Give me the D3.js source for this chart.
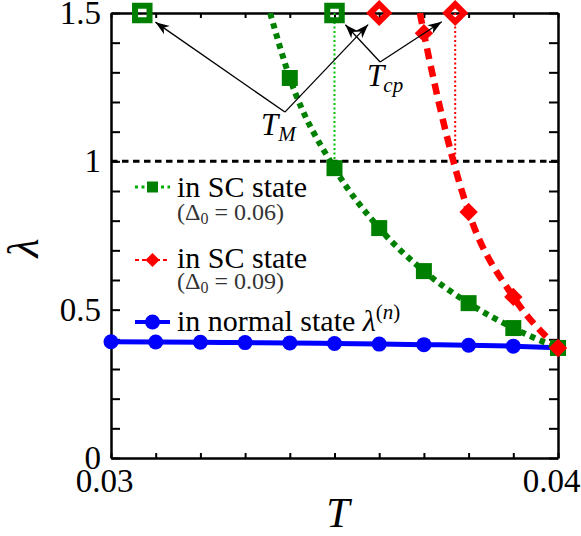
<!DOCTYPE html>
<html>
<head>
<meta charset="utf-8">
<script src="https://cdn.jsdelivr.net/npm/d3@7"></script>
<style>
	body { margin: 0; background: #fff; }
</style>
</head>
<body>
<div id="svg-container"></div>
<script>

// DATA
// normal state lambda^(n)
const normalT = [0.030, 0.031, 0.032, 0.033, 0.034, 0.035, 0.036, 0.037, 0.038, 0.039];
const normalLambda = [0.392, 0.391, 0.390, 0.389, 0.388, 0.386, 0.384, 0.382, 0.380, 0.377];
// SC state, Delta0 = 0.06
const sc06T = [0.034, 0.035, 0.036, 0.037, 0.038, 0.039, 0.040];
const sc06Lambda = [1.281, 0.977, 0.775, 0.630, 0.522, 0.438, 0.371];
const sc06Edge = [0.03356, 1.5];  // where the curve leaves the frame
// SC state, Delta0 = 0.09
const sc09T = [0.037, 0.038, 0.039, 0.040];
const sc09Lambda = [1.432, 0.829, 0.543, 0.371];
const sc09Edge = [0.03691, 1.5];
// T_M and T_cp (green, red), drawn on the top edge
const markLambda = 1.5;
const tM = [0.0307, 0.0360];
const tCp = [0.0350, 0.0377];
// label anchors (where the arrows start)
const tMLabel = [0.03389, 1.166];
const tCpLabel = [0.03602, 1.335];
// ticks
const xTicks = d3.range(0.030, 0.04001, 0.001);
const yTicks = d3.range(0, 1.501, 0.1);
const xLabels = [0.03, 0.04];
const yLabels = [0, 0.5, 1, 1.5];


// GRAPH
function graphData() {
	const w = 581;
	const h = 536;
	const padTop = 13;
	const padBottom = 78;
	const padLeft = 111;
	const padRight = 23;
	const serif = "Liberation Serif";

	// colors
	const green = "#008000";
	const red = "#ff0000";
	const blue = "#0000ff";

	// scales
	const xScale = d3.scaleLinear()
		.domain([0.03, 0.04])
		.range([padLeft, w - padRight]);
	const yScale = d3.scaleLinear()
		.domain([0, 1.5])
		.range([h - padBottom, padTop]);

	// svg
	const svg = d3.select("#svg-container")
		.append("svg")
		.attr("width", w)
		.attr("height", h)
		.attr("font-family", serif);

	const defs = svg.append("defs");
	defs.append("clipPath")
		.attr("id", "plot-clip")
		.append("rect")
		.attr("x", padLeft)
		.attr("y", padTop)
		.attr("width", w - padLeft - padRight)
		.attr("height", h - padTop - padBottom);
	defs.append("marker")
		.attr("id", "arrow")
		.attr("viewBox", "-15 -7 17 14")
		.attr("refX", 0)
		.attr("refY", 0)
		.attr("markerWidth", 17)
		.attr("markerHeight", 14)
		.attr("markerUnits", "userSpaceOnUse")
		.attr("orient", "auto")
		.append("path")
		.attr("d", "M0,0 L-14,-5 L-10,0 L-14,5 Z")
		.attr("fill", "#000");

	// axes (frame with inward ticks)
	const fmtY = d => yLabels.some(v => Math.abs(v - d) < 1e-9) ? String(+d.toFixed(1)) : "";
	const fmtX = d => xLabels.some(v => Math.abs(v - d) < 1e-9) ? d.toFixed(2) : "";
	const axes = [
		{ axis: d3.axisLeft(yScale).tickValues(yTicks).tickSize(-9).tickPadding(10).tickFormat(fmtY), tr: `translate(${padLeft},0)`, dx: 0 },
		{ axis: d3.axisRight(yScale).tickValues(yTicks).tickSize(-9).tickFormat(""), tr: `translate(${w - padRight},0)`, dx: 0 },
		{ axis: d3.axisBottom(xScale).tickValues(xTicks).tickSize(-5).tickPadding(11).tickFormat(fmtX), tr: `translate(0,${h - padBottom})`, dx: -7 },
		{ axis: d3.axisTop(xScale).tickValues(xTicks).tickSize(-5).tickFormat(""), tr: `translate(0,${padTop})`, dx: 0 }
	];
	axes.forEach(a => {
		const g = svg.append("g")
			.attr("transform", a.tr)
			.call(a.axis.tickSizeOuter(0));
		g.attr("font-family", serif);
		g.select(".domain").attr("stroke-width", 2.5).attr("stroke", "#000");
		g.selectAll(".tick line").attr("stroke-width", 2).attr("stroke", "#000");
		g.selectAll(".tick text")
			.attr("font-family", serif)
			.attr("font-size", 33)
			.attr("fill", "#000")
			.attr("dx", a.dx);
	});

	// axis titles
	svg.append("text")
		.text("T")
		.attr("x", 338)
		.attr("y", 527)
		.attr("text-anchor", "middle")
		.attr("font-family", serif)
		.attr("font-style", "italic")
		.attr("font-size", 42);
	svg.append("text")
		.text("λ")
		.attr("transform", "translate(38,248) rotate(-90)")
		.attr("text-anchor", "middle")
		.attr("font-family", serif)
		.attr("font-style", "italic")
		.attr("font-size", 44);

	// lambda = 1 reference
	svg.append("line")
		.attr("x1", xScale(0.03))
		.attr("x2", xScale(0.04))
		.attr("y1", yScale(1))
		.attr("y2", yScale(1))
		.attr("stroke", "#000")
		.attr("stroke-width", 3)
		.attr("stroke-dasharray", "6.5,4.5");

	// T_cp guide lines
	svg.selectAll(".cp-guide")
		.data(tCp)
		.enter()
		.append("line")
		.attr("class", "cp-guide")
		.attr("x1", d => xScale(d))
		.attr("x2", d => xScale(d))
		.attr("y1", yScale(markLambda))
		.attr("y2", yScale(1))
		.attr("stroke", (d, i) => i === 0 ? "#00c000" : red)
		.attr("stroke-width", 2)
		.attr("stroke-dasharray", "2,2.5");

	// lines
	const line = d3.line()
		.x(d => xScale(d[0]))
		.y(d => yScale(d[1]))
		.curve(d3.curveMonotoneX);
	const plot = svg.append("g").attr("clip-path", "url(#plot-clip)");
	plot.append("path")
		.attr("d", line(normalT.map((t, i) => [t, normalLambda[i]]).concat([[0.040, 0.372]])))
		.attr("fill", "none")
		.attr("stroke", blue)
		.attr("stroke-width", 5);
	plot.append("path")
		.attr("d", line([sc06Edge].concat(sc06T.map((t, i) => [t, sc06Lambda[i]]))))
		.attr("fill", "none")
		.attr("stroke", green)
		.attr("stroke-width", 6)
		.attr("stroke-dasharray", "5.5,5");
	plot.append("path")
		.attr("d", line([sc09Edge].concat(sc09T.map((t, i) => [t, sc09Lambda[i]]))))
		.attr("fill", "none")
		.attr("stroke", red)
		.attr("stroke-width", 6.5)
		.attr("stroke-dasharray", "11,7");

	// markers
	const square = d3.symbol().type(d3.symbolSquare);
	svg.selectAll(".dot-n")
		.data(normalT)
		.enter()
		.append("circle")
		.attr("class", "dot-n")
		.attr("cx", d => xScale(d))
		.attr("cy", (d, i) => yScale(normalLambda[i]))
		.attr("r", 7.5)
		.attr("fill", blue);
	svg.selectAll(".dot-06")
		.data(sc06T)
		.enter()
		.append("path")
		.attr("class", "dot-06")
		.attr("d", square.size(16 * 16))
		.attr("transform", (d, i) => `translate(${xScale(d)},${yScale(sc06Lambda[i])})`)
		.attr("fill", green);
	svg.selectAll(".dot-09")
		.data(sc09T)
		.enter()
		.append("path")
		.attr("class", "dot-09")
		.attr("d", square.size(13 * 13))
		.attr("transform", (d, i) => `translate(${xScale(d)},${yScale(sc09Lambda[i])}) rotate(45)`)
		.attr("fill", red);

	// open markers on the top edge (green: Delta0 = 0.06, red: Delta0 = 0.09)
	const openMarks = [
		{ t: tM[0], c: green, diamond: false },
		{ t: tCp[0], c: green, diamond: false },
		{ t: tM[1], c: red, diamond: true },
		{ t: tCp[1], c: red, diamond: true }
	];
	svg.selectAll(".open")
		.data(openMarks)
		.enter()
		.append("path")
		.attr("class", "open")
		.attr("d", d => d.diamond ? square.size(12.5 * 12.5)() : square.size(14.5 * 14.5)())
		.attr("transform", d => `translate(${xScale(d.t)},${yScale(markLambda)})` + (d.diamond ? " rotate(45)" : ""))
		.attr("fill", "none")
		.attr("stroke", d => d.c)
		.attr("stroke-width", 6);

	// arrows from labels to the marks
	const arrowSets = [
		{ from: tMLabel, to: [tM[0], tM[1]] },
		{ from: tCpLabel, to: [tCp[0], tCp[1]] }
	];
	arrowSets.forEach(s => {
		const x0 = xScale(s.from[0]);
		const y0 = yScale(s.from[1]);
		s.to.forEach(t => {
			const x1 = xScale(t);
			const y1 = yScale(markLambda);
			const len = Math.hypot(x1 - x0, y1 - y0);
			const k = (len - 16) / len;
			svg.append("line")
				.attr("x1", x0)
				.attr("y1", y0)
				.attr("x2", x0 + (x1 - x0) * k)
				.attr("y2", y0 + (y1 - y0) * k)
				.attr("stroke", "#000")
				.attr("stroke-width", 1.3)
				.attr("marker-end", "url(#arrow)");
		});
	});

	// annotation labels
	const tMText = svg.append("text")
		.attr("x", xScale(tMLabel[0]) - 24)
		.attr("y", yScale(tMLabel[1]) + 23)
		.attr("font-family", serif)
		.attr("font-style", "italic")
		.attr("font-size", 31);
	tMText.append("tspan").text("T");
	tMText.append("tspan").text("M").attr("font-size", 21).attr("dy", 6);
	const tCpText = svg.append("text")
		.attr("x", xScale(tCpLabel[0]) - 13)
		.attr("y", yScale(tCpLabel[1]) + 24)
		.attr("font-family", serif)
		.attr("font-style", "italic")
		.attr("font-size", 31);
	tCpText.append("tspan").text("T");
	tCpText.append("tspan").text("cp").attr("font-size", 21).attr("dy", 6).attr("dx", -1);

	// legend
	const lx0 = 135;
	const lx1 = 170;
	const lxText = 177;
	const legend = svg.append("g").attr("font-family", serif);
	const mainText = (txt, y) => legend.append("text").text(txt)
		.attr("x", lxText).attr("y", y)
		.attr("font-family", serif).attr("font-size", 30);
	const deltaText = (val, y) => {
		const t = legend.append("text").attr("x", lxText).attr("y", y)
			.attr("font-family", serif).attr("font-size", 24).attr("fill", "#333");
		t.append("tspan").text("(Δ");
		t.append("tspan").text("0").attr("font-size", 16).attr("dy", 4);
		t.append("tspan").text(` = ${val})`).attr("dy", -4);
	};
	// entry 1
	legend.append("line")
		.attr("x1", lx0).attr("x2", lx1).attr("y1", 187).attr("y2", 187)
		.attr("stroke", "#00b000").attr("stroke-width", 3).attr("stroke-dasharray", "3,3.5");
	legend.append("path")
		.attr("d", square.size(11 * 11)())
		.attr("transform", `translate(${(lx0 + lx1) / 2},187)`)
		.attr("fill", green);
	mainText("in SC state", 197);
	deltaText("0.06", 220);
	// entry 2
	legend.append("line")
		.attr("x1", lx0).attr("x2", lx1).attr("y1", 260).attr("y2", 260)
		.attr("stroke", red).attr("stroke-width", 2.2).attr("stroke-dasharray", "4,3");
	legend.append("path")
		.attr("d", square.size(10 * 10)())
		.attr("transform", `translate(${(lx0 + lx1) / 2},260) rotate(45)`)
		.attr("fill", red);
	mainText("in SC state", 268);
	deltaText("0.09", 289);
	// entry 3
	legend.append("line")
		.attr("x1", lx0).attr("x2", lx1).attr("y1", 322).attr("y2", 322)
		.attr("stroke", blue).attr("stroke-width", 4);
	legend.append("circle")
		.attr("cx", (lx0 + lx1) / 2).attr("cy", 322).attr("r", 7.5)
		.attr("fill", blue);
	const n3 = mainText("", 331);
	n3.append("tspan").text("in normal state ");
	n3.append("tspan").text("λ").attr("font-style", "italic");
	n3.append("tspan").text("(").attr("font-size", 21).attr("dy", -12);
	n3.append("tspan").text("n").attr("font-size", 21).attr("font-style", "italic");
	n3.append("tspan").text(")").attr("font-size", 21);
}


document.addEventListener('DOMContentLoaded', () => {
	graphData();
});
</script>
</body>
</html>
